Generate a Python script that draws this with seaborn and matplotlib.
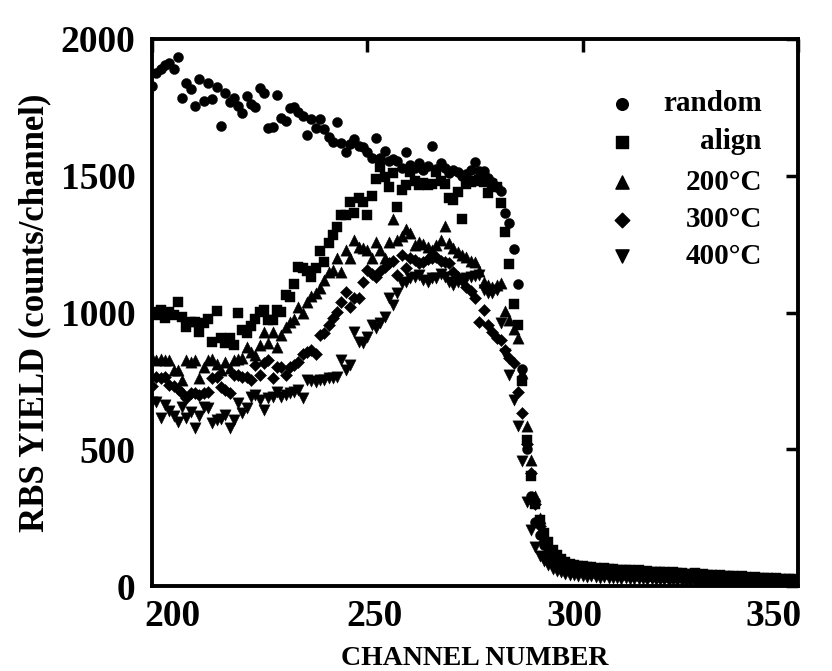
import numpy as np
import pandas as pd
import matplotlib
matplotlib.use("Agg")
import matplotlib.pyplot as plt
from matplotlib.transforms import ScaledTranslation
import seaborn as sns

channels = list(range(200, 351))

random_yield = [
    1829, 1876, 1890, 1905, 1912, 1890, 1934, 1784, 1839, 1817,
    1755, 1855, 1773, 1840, 1782, 1824, 1683, 1802, 1770, 1785,
    1755, 1730, 1791, 1762, 1751, 1821, 1802, 1676, 1678, 1796,
    1711, 1701, 1748, 1752, 1733, 1718, 1649, 1708, 1674, 1709,
    1672, 1643, 1623, 1696, 1620, 1587, 1616, 1634, 1610, 1605,
    1586, 1565, 1639, 1565, 1590, 1555, 1560, 1554, 1530, 1588,
    1540, 1530, 1547, 1520, 1535, 1610, 1525, 1547, 1530, 1510,
    1520, 1515, 1500, 1506, 1520, 1550, 1517, 1517, 1490, 1477,
    1460, 1445, 1364, 1327, 1232, 1104, 795, 500, 330, 235,
    185, 150, 120, 100, 88, 80, 72, 68, 64, 62,
    60, 58, 61, 56, 55, 57, 52, 54, 50, 51,
    49, 50, 46, 48, 45, 46, 43, 44, 42, 41,
    42, 39, 40, 38, 39, 36, 37, 35, 34, 35,
    33, 32, 34, 30, 31, 29, 30, 28, 27, 28,
    26, 25, 27, 24, 23, 24, 22, 21, 22, 20,
    19]

align_yield = [
    1003, 990, 1009, 980, 1003, 991, 1040, 985, 948, 966,
    966, 930, 961, 976, 893, 1005, 905, 890, 906, 881,
    1000, 936, 925, 950, 975, 1003, 1009, 973, 973, 1009,
    1003, 1064, 1058, 1103, 1165, 1161, 1150, 1131, 1161, 1226,
    1186, 1253, 1283, 1314, 1356, 1356, 1405, 1362, 1417, 1405,
    1356, 1427, 1487, 1533, 1497, 1458, 1509, 1385, 1448, 1466,
    1515, 1480, 1466, 1475, 1466, 1470, 1515, 1480, 1470, 1417,
    1411, 1442, 1341, 1470, 1478, 1480, 1485, 1478, 1436, 1470,
    1460, 1399, 1295, 1177, 1030, 954, 749, 535, 403, 300,
    241, 195, 160, 132, 112, 98, 88, 82, 78, 74,
    72, 68, 70, 65, 63, 66, 61, 63, 59, 60,
    58, 59, 55, 57, 53, 55, 52, 53, 50, 51,
    49, 50, 46, 48, 45, 44, 46, 42, 43, 40,
    41, 38, 39, 36, 37, 35, 34, 35, 32, 31,
    32, 30, 29, 30, 27, 28, 26, 25, 26, 24,
    23]

t200_yield = [
    834, 826, 830, 826, 826, 790, 790, 753, 826, 820,
    826, 759, 800, 826, 829, 810, 790, 820, 796, 826,
    830, 832, 875, 857, 845, 881, 930, 887, 930, 875,
    918, 948, 966, 978, 1020, 997, 1040, 1060, 1070, 1088,
    1119, 1149, 1155, 1198, 1147, 1228, 1198, 1265, 1240, 1235,
    1228, 1198, 1259, 1228, 1198, 1259, 1341, 1265, 1280, 1304,
    1290, 1247, 1259, 1250, 1240, 1230, 1247, 1265, 1316, 1253,
    1235, 1222, 1210, 1204, 1190, 1186, 1150, 1113, 1100, 1094,
    1100, 1107, 1005, 973, 940, 905, 777, 585, 461, 330,
    247, 180, 140, 112, 95, 82, 74, 68, 63, 60,
    57, 55, 53, 54, 50, 51, 48, 49, 46, 47,
    45, 44, 45, 42, 43, 40, 41, 39, 40, 38,
    37, 38, 35, 36, 34, 33, 34, 31, 32, 30,
    29, 30, 28, 27, 28, 25, 26, 24, 25, 23,
    22, 23, 21, 20, 21, 19, 18, 19, 17, 16,
    16]

t300_yield = [
    731, 765, 760, 765, 735, 731, 720, 704, 686, 704,
    704, 700, 704, 710, 760, 765, 729, 717, 704, 771,
    771, 765, 765, 753, 808, 771, 814, 826, 759, 800,
    802, 771, 802, 808, 820, 850, 855, 863, 850, 918,
    924, 954, 980, 1003, 1040, 1076, 1021, 1052, 1052, 1113,
    1155, 1140, 1131, 1150, 1168, 1180, 1190, 1137, 1210, 1161,
    1198, 1192, 1180, 1186, 1195, 1200, 1204, 1190, 1185, 1180,
    1149, 1130, 1120, 1094, 1080, 1052, 966, 1009, 954, 930,
    906, 900, 863, 833, 814, 711, 632, 520, 412, 300,
    220, 160, 122, 98, 82, 72, 64, 59, 55, 52,
    50, 48, 49, 46, 45, 43, 44, 41, 42, 40,
    39, 38, 39, 36, 37, 35, 34, 35, 33, 32,
    31, 32, 30, 29, 30, 28, 27, 28, 26, 25,
    26, 24, 23, 24, 22, 21, 22, 20, 19, 20,
    18, 19, 17, 16, 17, 15, 16, 14, 15, 13,
    13]

t400_yield = [
    674, 674, 613, 662, 640, 620, 600, 655, 613, 637,
    576, 620, 655, 650, 595, 607, 610, 625, 577, 607,
    668, 631, 650, 692, 698, 680, 643, 686, 692, 711,
    692, 700, 705, 711, 717, 686, 753, 750, 747, 753,
    755, 759, 760, 765, 826, 790, 808, 930, 893, 887,
    911, 954, 942, 960, 985, 1052, 1027, 1070, 1107, 1110,
    1125, 1130, 1137, 1120, 1113, 1125, 1125, 1140, 1130, 1110,
    1100, 1110, 1120, 1125, 1131, 1135, 1137, 1082, 1070, 1070,
    1082, 960, 850, 770, 680, 585, 458, 308, 205, 144,
    110, 90, 75, 62, 55, 50, 45, 42, 40, 38,
    35, 34, 36, 32, 31, 33, 29, 30, 28, 27,
    28, 26, 25, 26, 24, 23, 24, 22, 21, 22,
    20, 21, 19, 18, 19, 17, 16, 17, 15, 16,
    14, 15, 13, 14, 12, 13, 11, 12, 10, 11,
    10, 9, 10, 8, 9, 8, 7, 8, 6, 7,
    6]

series_names = ["random", "align", "200\u00b0C", "300\u00b0C", "400\u00b0C"]
series_values = [random_yield, align_yield, t200_yield, t300_yield, t400_yield]
series_markers = ["o", "s", "^", "D", "v"]
series_sizes = [52, 50, 66, 38, 66]

x_ticks = [200, 250, 300, 350]
y_ticks = [0, 500, 1000, 1500, 2000]

sns.set_theme(style="white")
plt.rcParams["font.family"] = ["Liberation Serif", "DejaVu Serif"]
plt.rcParams["font.weight"] = "bold"
plt.rcParams["text.color"] = "black"
plt.rcParams["axes.labelcolor"] = "black"

fig = plt.figure(figsize=(8.32, 6.71), dpi=100)
ax = fig.add_axes([152 / 832, 1 - 586 / 671, (798 - 152) / 832, (586 - 39) / 671])

for name, vals, mk, sz in zip(series_names, series_values, series_markers, series_sizes):
    df = pd.DataFrame({"channel": channels, "yield": vals})
    sns.scatterplot(data=df, x="channel", y="yield", marker=mk, s=sz,
                    color="black", edgecolor="black", linewidth=0.3, ax=ax, legend=False)

ax.set_xlim(200, 350)
ax.set_ylim(0, 2000)
ax.set_xticks(x_ticks)
ax.set_yticks(y_ticks)
ax.tick_params(direction="in", length=9, width=2.5, top=True, right=True,
               labelsize=27, colors="black")
ax.tick_params(axis="y", pad=12)
ax.tick_params(axis="x", pad=9)
for lab in ax.get_xticklabels() + ax.get_yticklabels():
    lab.set_fontweight("bold")
# horizontal shift of x tick labels as in the reference (pixels)
x_label_shift = [20, 7, -8, -24]
for lab, dx in zip(ax.get_xticklabels(), x_label_shift):
    lab.set_transform(lab.get_transform() + ScaledTranslation(dx / 100, 0, fig.dpi_scale_trans))
for sp in ax.spines.values():
    sp.set_linewidth(2.8)
    sp.set_color("black")

ax.set_xlabel("CHANNEL NUMBER", fontsize=20, fontweight="bold", labelpad=9)
ax.set_ylabel("RBS YIELD (counts/channel)", fontsize=25, fontweight="bold", labelpad=7)

# legend drawn manually (markers first, labels right-aligned)
leg_y = [0.882, 0.812, 0.738, 0.67, 0.603]
leg_sizes = [70, 70, 90, 55, 90]
for name, mk, sz, yy in zip(series_names, series_markers, leg_sizes, leg_y):
    ax.scatter([0.727], [yy], marker=mk, s=sz, color="black",
               transform=ax.transAxes, clip_on=False)
    ax.text(0.944, yy, name, transform=ax.transAxes, ha="right", va="center",
            fontsize=21, fontweight="bold")

fig.savefig("out.png", dpi=100)
